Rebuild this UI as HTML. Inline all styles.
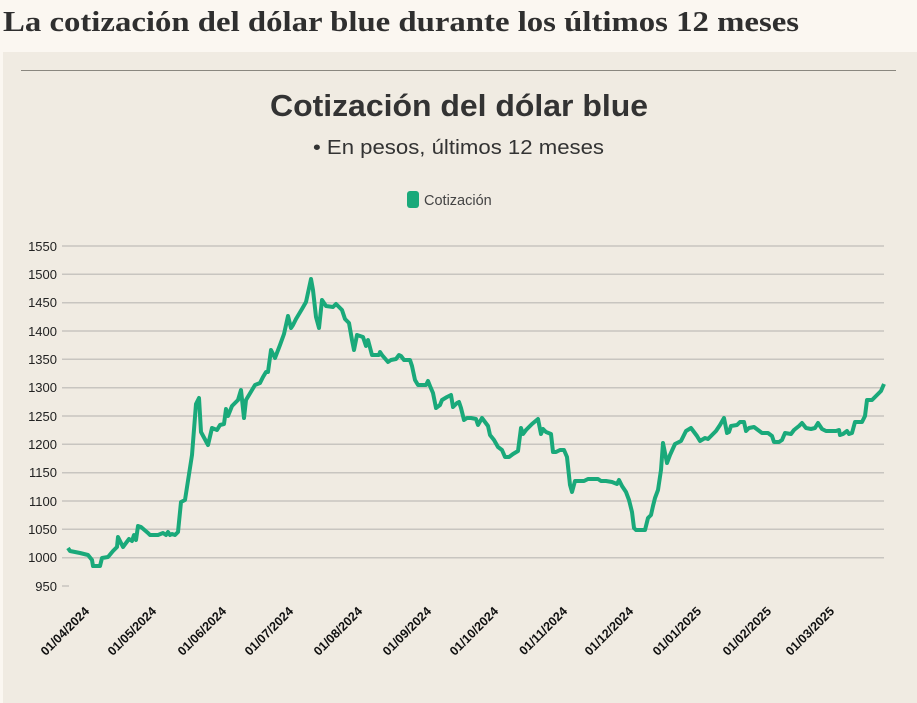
<!DOCTYPE html>
<html><head><meta charset="utf-8"><style>
body{margin:0;width:917px;height:703px;background:#fbf7f1;overflow:hidden;font-family:"Liberation Sans",sans-serif}
#panel{position:absolute;left:3px;top:52px;width:914px;height:651px;background:#f0ebe2}
</style></head><body>
<div id="panel"></div>
<svg width="917" height="703" style="position:absolute;left:0;top:0" font-family="Liberation Sans, sans-serif">
<text x="3" y="31" font-family="Liberation Serif, serif" font-size="29" font-weight="bold" fill="#2f2f2f" textLength="796" lengthAdjust="spacingAndGlyphs">La cotización del dólar blue durante los últimos 12 meses</text>
<line x1="21" y1="70.5" x2="896" y2="70.5" stroke="#8a877f" stroke-width="1"/>
<text x="270" y="116" font-size="31" font-weight="bold" fill="#333" textLength="378" lengthAdjust="spacingAndGlyphs">Cotización del dólar blue</text>
<text x="313" y="154" font-size="20" fill="#333" textLength="291" lengthAdjust="spacingAndGlyphs">• En pesos, últimos 12 meses</text>
<rect x="407" y="191" width="12" height="17" rx="3" fill="#1aa97a"/>
<text x="424" y="205" font-size="14.5" fill="#444">Cotización</text>
<g stroke="#c8c5c0" stroke-width="1.5">
<line x1="62" x2="884" y1="246" y2="246"/><line x1="62" x2="884" y1="274.3" y2="274.3"/><line x1="62" x2="884" y1="302.7" y2="302.7"/><line x1="62" x2="884" y1="331" y2="331"/><line x1="62" x2="884" y1="359.3" y2="359.3"/><line x1="62" x2="884" y1="387.7" y2="387.7"/><line x1="62" x2="884" y1="416" y2="416"/><line x1="62" x2="884" y1="444.3" y2="444.3"/><line x1="62" x2="884" y1="472.7" y2="472.7"/><line x1="62" x2="884" y1="501" y2="501"/><line x1="62" x2="884" y1="529.3" y2="529.3"/><line x1="62" x2="884" y1="557.7" y2="557.7"/><line x1="62" x2="69" y1="586" y2="586"/>
</g>
<g font-size="13" fill="#222" text-anchor="end">
<text x="57" y="251">1550</text><text x="57" y="279">1500</text><text x="57" y="307">1450</text><text x="57" y="336">1400</text><text x="57" y="364">1350</text><text x="57" y="392">1300</text><text x="57" y="421">1250</text><text x="57" y="449">1200</text><text x="57" y="477">1150</text><text x="57" y="506">1100</text><text x="57" y="534">1050</text><text x="57" y="562">1000</text><text x="57" y="591">950</text>
</g>
<g font-size="12.5" font-weight="bold" fill="#111" text-anchor="end">
<text transform="translate(90,612) rotate(-45)">01/04/2024</text>
<text transform="translate(157,612) rotate(-45)">01/05/2024</text>
<text transform="translate(227,612) rotate(-45)">01/06/2024</text>
<text transform="translate(294,612) rotate(-45)">01/07/2024</text>
<text transform="translate(363,612) rotate(-45)">01/08/2024</text>
<text transform="translate(432,612) rotate(-45)">01/09/2024</text>
<text transform="translate(499,612) rotate(-45)">01/10/2024</text>
<text transform="translate(568,612) rotate(-45)">01/11/2024</text>
<text transform="translate(634,612) rotate(-45)">01/12/2024</text>
<text transform="translate(702,612) rotate(-45)">01/01/2025</text>
<text transform="translate(772,612) rotate(-45)">01/02/2025</text>
<text transform="translate(835,612) rotate(-45)">01/03/2025</text>
</g>
<polyline fill="none" stroke="#1aa97a" stroke-width="4" stroke-linejoin="round" points="68,548 70,551 80,553 88,555 92,560 93,566 100,566 102,558 108,557 113,551 117,547 118,537 123,547 129,539 132,541 134,535 136,540 138,526 141,527 148,533 150,535 158,535 163,533 166,535 168,532 170,535 172,534 175,535 178,532 181,502 185,500 192,455 196,404 199,398 201,432 208,445 212,428 217,430 220,425 224,424 226,409 228,416 232,406 238,400 241,390 244,418 246,400 252,390 255,385 260,383 263,377 266,372 268,372 271,350 275,358 280,345 284,334 288,316 291,328 293,325 296,319 302,309 306,302 311,279 313,290 316,317 319,328 322,300 326,306 333,307 336,304 340,308 342,310 345,319 349,323 352,340 354,350 357,335 363,337 366,346 368,340 372,355 379,355 380,352 382,355 388,362 391,360 396,359 399,355 401,356 404,360 410,360 412,366 415,380 418,385 420,385 426,385 428,381 430,386 433,393 436,408 440,405 442,400 447,397 451,395 453,407 457,403 459,402 461,408 464,420 467,418 471,418 476,419 478,425 482,418 488,426 490,435 494,440 498,447 502,450 505,457 509,457 513,454 518,451 521,428 523,434 526,430 532,424 538,419 541,434 543,429 546,432 551,434 553,452 556,452 560,450 564,450 567,457 570,485 572,492 575,481 584,481 588,479 598,479 601,481 606,481 612,482 617,484 619,480 622,486 626,492 629,500 632,512 634,528 636,530 645,530 648,518 651,515 653,506 655,498 658,490 661,470 663,443 667,463 670,455 675,444 681,441 686,431 691,428 694,432 697,436 700,441 705,438 708,439 712,435 716,431 720,425 724,418 727,433 729,432 731,426 737,425 740,422 744,422 746,431 749,428 754,427 758,430 762,433 768,433 772,436 774,442 779,442 782,440 785,433 791,434 794,430 799,426 802,423 806,428 811,429 815,428 818,423 822,429 826,431 836,431 839,430 840,435 843,434 847,431 849,434 852,433 855,422 862,422 865,416 867,400 872,400 876,396 881,391 884,384"/>
</svg>
</body></html>
